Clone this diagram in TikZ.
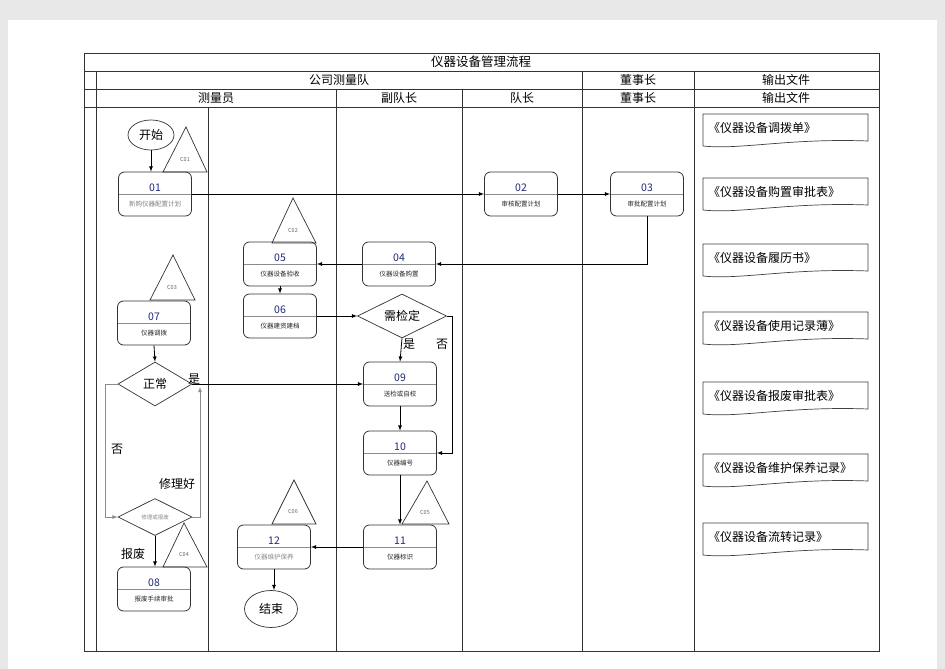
\documentclass[tikz,border=0pt]{standalone}
\usepackage{fontspec}
\setmainfont{Noto Sans CJK SC}
\usetikzlibrary{shapes.geometric}
\definecolor{numblue}{RGB}{30,40,120}
\definecolor{pagegray}{RGB}{232,232,232}
\tikzset{
	flowbox/.style={draw=black!80, rounded corners=6pt, minimum width=73pt, minimum height=44pt, inner sep=0pt, line width=0.8pt,
		path picture={\draw[black!45, line width=0.7pt] (path picture bounding box.west) -- (path picture bounding box.east);}},
	numlab/.style={yshift=6pt, font=\fontsize{10.5}{12}\selectfont, text=numblue},
	sublab/.style={yshift=-10pt, font=\fontsize{6.5}{7}\selectfont, text=black!85},
	flowdia/.style={draw=black!80, diamond, shape aspect=2, inner sep=0pt, line width=0.7pt},
	flowend/.style={draw=black!80, ellipse, inner sep=0pt, line width=0.7pt},
	tri/.style={draw=black!80, fill=white, line width=0.7pt},
	trilab/.style={font=\fontsize{5.5}{6}\selectfont, text=black!60},
	arr/.style={-latex, line width=0.8pt},
	loopline/.style={black!45, line width=1.2pt},
	docshape/.style={draw=black!75, line width=0.7pt},
}

\begin{document}
\begin{tikzpicture}[x=1pt, y=-1pt, font=\fontsize{12}{14}\selectfont]
\useasboundingbox (0,0) rectangle (945,669);
\fill[pagegray] (0,0) rectangle (945,669);
\fill[white] (8,20) rectangle (937,669);

% table and lanes
\draw[line width=0.8pt, black!80] (84,53) rectangle (879,651);
\foreach \row in {71, 89, 107} {
	\draw[black!80] (84,\row) -- (879,\row);
	};
\foreach \col/\top in {96/71, 208/107, 336/89, 462/89, 582/71, 694/71} {
	\draw[black!80] (\col,\top) -- (\col,651);
	};
\node (title) at (481,62) {\fontsize{12.5}{14}\selectfont 仪器设备管理流程};
\node (team) at (339,80) {公司测量队};
\node (boss1) at (638,80) {董事长};
\node (out1) at (786,80) {输出文件};
\node (lane1) at (216,98) {测量员};
\node (lane2) at (399,98) {副队长};
\node (lane3) at (522,98) {队长};
\node (boss2) at (638,98) {董事长};
\node (out2) at (786,98) {输出文件};

% triangles
\draw[tri] (163,172) -- (186,127) -- (207,172) -- cycle;
\draw[tri] (272,243) -- (293,198) -- (316,243) -- cycle;
\draw[tri] (150,300) -- (173,255) -- (195,300) -- cycle;
\draw[tri] (163,567) -- (184,523) -- (207,567) -- cycle;
\draw[tri] (402,524) -- (427,481) -- (449,524) -- cycle;
\draw[tri] (272,524) -- (294,480) -- (316,524) -- cycle;
\node[trilab] (c01) at (185,159) {C01};
\node[trilab] (c02) at (293,230) {C02};
\node[trilab] (c03) at (172,287) {C03};
\node[trilab] (c04) at (184,554) {C04};
\node[trilab] (c05) at (425,512) {C05};
\node[trilab] (c06) at (293,511) {C06};

% steps
\node[flowend, minimum width=46pt, minimum height=30pt] (start) at (151,135) {开始};
\node[flowbox, label={[numlab]center:01}, label={[sublab, text=black!50]center:新购仪器配置计划}] (b01) at (155,194) {};
\node[flowbox, label={[numlab]center:02}, label={[sublab]center:审核配置计划}] (b02) at (521,194) {};
\node[flowbox, label={[numlab]center:03}, label={[sublab]center:审批配置计划}] (b03) at (647,194) {};
\node[flowbox, label={[numlab]center:04}, label={[sublab]center:仪器设备购置}] (b04) at (399,264) {};
\node[flowbox, label={[numlab]center:05}, label={[sublab]center:仪器设备验收}] (b05) at (280,264) {};
\node[flowbox, label={[numlab]center:06}, label={[sublab]center:仪器建资建档}] (b06) at (280,316) {};
\node[flowbox, label={[numlab]center:07}, label={[sublab]center:仪器调拨}] (b07) at (154,323) {};
\node[flowdia, minimum width=89pt, minimum height=44pt] (d1) at (402,316) {需检定};
\node[flowdia, minimum width=74pt, minimum height=44pt] (d2) at (155,384) {正常};
\node[flowbox, label={[numlab]center:09}, label={[sublab]center:送检或自校}] (b09) at (400,384) {};
\node[flowbox, label={[numlab]center:10}, label={[sublab]center:仪器编号}] (b10) at (400,453) {};
\node[flowdia, minimum width=74pt, minimum height=37pt, font=\fontsize{5.5}{6}\selectfont, text=black!45] (d3) at (155,517) {修理或报废};
\node[flowbox, label={[numlab]center:11}, label={[sublab]center:仪器标识}] (b11) at (400,547) {};
\node[flowbox, label={[numlab]center:12}, label={[sublab, text=black!45]center:仪器维护保养}] (b12) at (274,547) {};
\node[flowbox, label={[numlab]center:08}, label={[sublab]center:报废手续审批}] (b08) at (154,589) {};
\node[flowend, minimum width=53pt, minimum height=37pt] (endn) at (271,609) {结束};

% connectors
\draw[arr] (start.south) -- (start.south |- b01.north);
\draw[arr] (b01.east) -- (b02.west);
\draw[arr] (b02.east) -- (b03.west);
\draw[arr] (b03.south) |- (b04.east);
\draw[arr] (b04.west) -- (b05.east);
\draw[arr] (b05.south) -- (b06.north);
\draw[arr] (b06.east) -- (d1.west);
\draw[arr] (d1.south) -- (b09.north);
\coordinate (noturn) at (452,316);
\draw[arr] (d1.east) -- (noturn) |- (b10.east);
\draw[arr] (b07.south) -- (d2.north);
\draw[arr] (d2.east) -- (b09.west);
\draw[arr] (b09.south) -- (b10.north);
\draw[arr] (b10.south) -- (b11.north);
\draw[arr] (b11.west) -- (b12.east);
\draw[arr] (b12.south) -- (b12.south |- endn.north);
\coordinate (nobend) at (105,384);
\draw[loopline, arr] (d2.west) -- (nobend) |- (d3.west);
\coordinate (fixin) at (200,387);
\draw[loopline, arr] (d3.east) -| (fixin);
\draw[arr] (d3.south) -- (d3.south |- b08.north);
\node (yes1) at (409,344) {是};
\node (no1) at (442,344) {否};
\node (yes2) at (194,379) {是};
\node (no2) at (117,449) {否};
\node (fixed) at (177,484) {修理好};
\node (scrap) at (133,554) {报废};

% output documents
\foreach \i/\top/\txt in {1/114/《仪器设备调拨单》, 2/178/《仪器设备购置审批表》, 3/244/《仪器设备履历书》, 4/312/《仪器设备使用记录薄》, 5/382/《仪器设备报废审批表》, 6/454/《仪器设备维护保养记录》, 7/523/《仪器设备流转记录》} {
	\draw[docshape] (703,\top) -- (868,\top) -- (868,{\top+27}) .. controls (790,{\top+24}) and (740,{\top+36}) .. (703,{\top+32}) -- cycle;
	\node[anchor=west, inner sep=0pt] (doc\i) at (708,{\top+14}) {\txt};
	};
\end{tikzpicture}
\end{document}
